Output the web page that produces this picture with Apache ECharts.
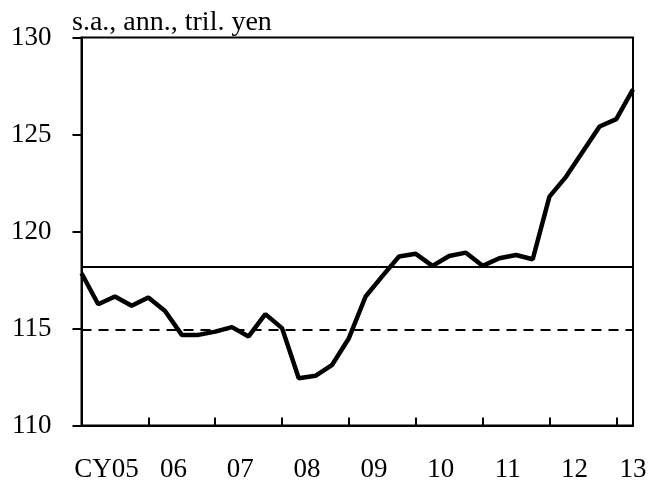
<!DOCTYPE html>
<html>
<head>
<meta charset="utf-8">
<script src="https://cdn.jsdelivr.net/npm/echarts@6/dist/echarts.min.js"></script>
<style>
  html, body { margin: 0; padding: 0; background: #fff; }
  #chart { width: 662px; height: 484px; }
</style>
</head>
<body>
<div id="chart"></div>
<script>
// quarterly, CY05 Q1 .. CY13 Q2 (one point per quarter)
const values = [
  117.85, 116.25, 116.65, 116.17, 116.6, 115.9, 114.67, 114.67,
  114.84, 115.07, 114.59, 115.74, 115.02, 112.44, 112.56, 113.13,
  114.5, 116.65, 117.7, 118.71, 118.85, 118.23, 118.74, 118.91,
  118.23, 118.62, 118.79, 118.57, 121.8, 122.83, 124.12, 125.41,
  125.79, 127.33
]
const yearLabels = ['CY05', '06', '07', '08', '09', '10', '11', '12', '13']
// where each year label sits on the quarter scale
const yearLabelPos = [1.5, 5.5, 9.5, 13.5, 17.5, 21.5, 25.5, 29.5, 33]
const yearTicks = [4, 8, 12, 16, 20, 24, 28, 32]
const solidLevel = 118.2
const dashedLevel = 114.95

const font = 'Liberation Serif'
const chart = echarts.init(document.getElementById('chart'))

chart.setOption({
  backgroundColor: '#fff',
  animation: false,
  title: {
    text: 's.a., ann., tril. yen',
    left: 67,
    top: 4,
    textStyle: {
      fontFamily: font,
      fontWeight: 'normal',
      fontSize: 28,
      color: '#000'
    }
  },
  grid: {
    left: 81.5,
    right: 29,
    top: 37.5,
    bottom: 58.5,
    show: true,
    borderColor: '#000',
    borderWidth: 2,
    containLabel: false
  },
  xAxis: {
    type: 'value',
    min: 0,
    max: values.length - 1,
    splitLine: { show: false },
    axisLine: { lineStyle: { color: '#000', width: 2 } },
    axisTick: {
      inside: true,
      length: 8,
      customValues: yearTicks,
      lineStyle: { color: '#000', width: 2 }
    },
    axisLabel: {
      customValues: yearLabelPos,
      margin: 31,
      fontFamily: font,
      fontSize: 27,
      color: '#000',
      formatter(v) {
        const i = yearLabelPos.indexOf(v)
        return i >= 0 ? yearLabels[i] : ''
      }
    }
  },
  yAxis: {
    type: 'value',
    min: 110,
    max: 130,
    interval: 5,
    splitLine: { show: false },
    axisLine: { show: true, lineStyle: { color: '#000', width: 2 } },
    axisTick: { show: true, length: 9, lineStyle: { color: '#000', width: 2 } },
    axisLabel: {
      margin: 30,
      fontFamily: font,
      fontSize: 27,
      color: '#000'
    }
  },
  series: [
    {
      type: 'line',
      data: values.map((v, i) => [i, v]),
      symbol: 'none',
      lineStyle: { color: '#000', width: 4.5 },
      markLine: {
        silent: true,
        symbol: 'none',
        label: { show: false },
        data: [
          { yAxis: solidLevel, lineStyle: { color: '#000', width: 2, type: 'solid' } },
          { yAxis: dashedLevel, lineStyle: { color: '#000', width: 2, type: [10, 7] } }
        ]
      }
    }
  ]
})
</script>
</body>
</html>
